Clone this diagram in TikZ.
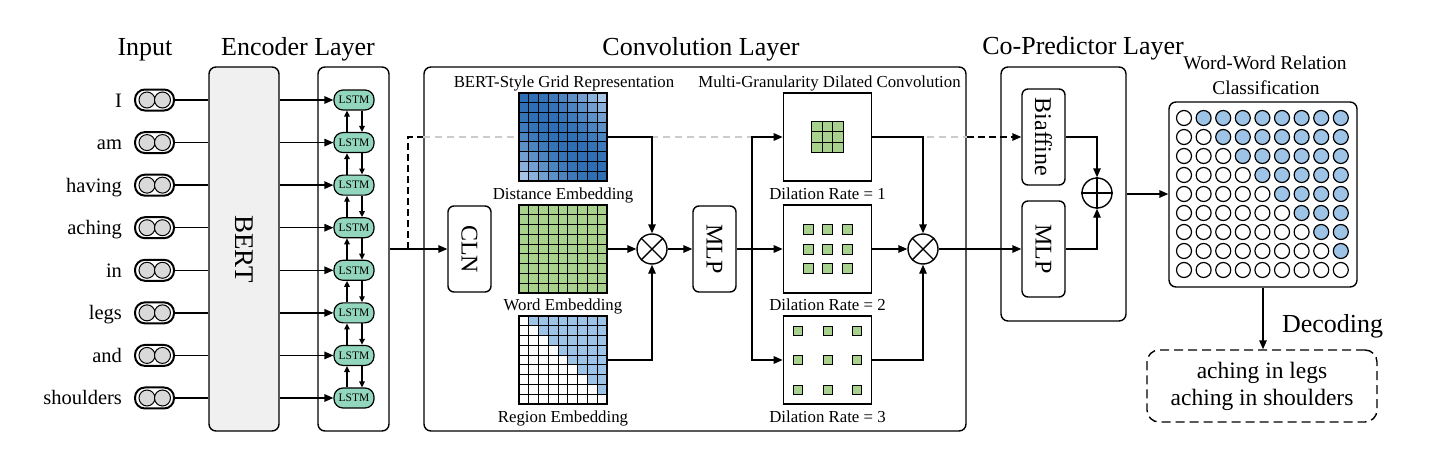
\documentclass[tikz,border=0pt]{standalone}
\usepackage{fontspec}
\setmainfont{Liberation Serif}
\usetikzlibrary{arrows.meta}

\definecolor{lstmgreen}{RGB}{146,214,190}
\definecolor{cellgreen}{RGB}{169,209,142}
\definecolor{cellblue}{RGB}{157,195,230}
\definecolor{distdark}{RGB}{46,110,180}
\definecolor{distlight}{RGB}{182,209,236}
\definecolor{bertgray}{RGB}{240,240,240}
\definecolor{tokgray}{RGB}{217,217,217}

\begin{document}
\begin{tikzpicture}[x=1pt, y=-1pt, line width=1.4pt,
    arr/.style={-{Triangle[length=9pt,width=7.5pt]}},
    sarr/.style={-{Triangle[length=6pt,width=5.5pt]}},
    layerbox/.style={draw, rounded corners=7pt, inner sep=0pt},
    blk/.style={draw, rounded corners=6pt, minimum width=43pt, minimum height=86pt, inner sep=0pt},
    grd/.style={draw, line width=1.6pt, minimum size=88pt, inner sep=0pt},
    cell/.style={draw, line width=1pt},
    ttl/.style={font=\fontsize{26}{30}\selectfont, anchor=base},
    lab/.style={font=\fontsize{16.8}{20}\selectfont, anchor=base},
    vtxt/.style={font=\fontsize{24}{28}\selectfont, rotate=-90}]

  \useasboundingbox (0,0) rectangle (1440,460);

  % Titoli
  \node[ttl] (tin) at (145,56) {Input};
  \node[ttl] (tenc) at (298,56) {Encoder Layer};
  \node[ttl] (tconv) at (701,56) {Convolution Layer};
  \node[ttl] (tcop) at (1083,55) {Co-Predictor Layer};

  % Encoder
  \node[layerbox, fill=bertgray, minimum width=70pt, minimum height=364pt] (bert) at (244,249) {};
  \node[font=\fontsize{27}{30}\selectfont, rotate=-90] (bertl) at (bert) {BERT};
  \node[layerbox, minimum width=71pt, minimum height=364pt] (enc) at (353.5,249) {};

  \foreach \w [count=\i] in {I,am,having,aching,in,legs,and,shoulders}{
    \pgfmathsetmacro\y{100+42.57*(\i-1)}
    \node[font=\fontsize{20.5}{24}\selectfont, anchor=base east] (w\i) at (126,\y+7) {\w};
    \node[draw, line width=2pt, rounded corners=10pt, minimum width=39pt, minimum height=21pt] (t\i) at (154.5,\y) {};
    \draw[fill=tokgray, line width=1pt] (147,\y) circle (8pt);
    \draw[fill=tokgray, line width=1pt] (162.5,\y) circle (8pt);
    \node[draw, fill=lstmgreen, rounded corners=9pt, minimum width=40pt, minimum height=20pt, inner sep=0pt,
          line width=1.2pt, font=\fontsize{11.5}{12}\selectfont] (l\i) at (354,\y) {LSTM};
    \draw (t\i.east) -- (t\i.east -| bert.west);
    \draw[arr] (bert.east |- l\i) -- (l\i.west);
  }
  \foreach \i in {1,...,7}{
    \pgfmathtruncatemacro\nx{\i+1}
    \draw[sarr] ([xshift=-7pt]l\nx.north) -- ([xshift=-7pt]l\i.south);
    \draw[sarr] ([xshift=8pt]l\i.south) -- ([xshift=8pt]l\nx.north);
  }

  % Co-Predictor
  \node[layerbox, minimum width=125pt, minimum height=254pt] (cop) at (1063.5,194) {};
  \node[blk, minimum height=96pt] (bia) at (1043.5,137) {};
  \node[vtxt] (bial) at (bia) {Biaffine};
  \node[blk, minimum height=96pt] (mlp2) at (1043.5,249) {};
  \node[vtxt] (mlp2l) at (mlp2) {MLP};
  \node[draw, circle, minimum size=30pt, inner sep=0pt] (op) at (1097,193) {};
  \draw (op.north) -- (op.south);
  \draw (op.west) -- (op.east);
  \draw[arr] (bia.east) -| (op.north);
  \draw[arr] (mlp2.east) -| (op.south);

  % Convolution
  \node[layerbox, minimum width=542pt, minimum height=364pt] (conv) at (695,249) {};
  \coordinate (jn) at (408,249);
  \draw[dash pattern=on 7pt off 4pt] (jn) |- (conv.west |- bia);
  \draw[gray!40, dash pattern=on 7pt off 5pt] (conv.west |- bia) -- (conv.east |- bia);
  \draw[arr, dash pattern=on 7pt off 4pt] (conv.east |- bia) -- (bia.west);

  \node[blk] (cln) at (469.5,249) {};
  \node[vtxt] (clnl) at (cln) {CLN};
  \draw[arr] (enc.east) -- (cln.west);

  \foreach \row in {0,...,8}{
    \foreach \col in {0,...,8}{
      \pgfmathtruncatemacro\dd{1.4*(\row-\col)^2}
      \draw[cell, fill=distlight!\dd!distdark] (519+\col*9.78,93+\row*9.78) rectangle ++(9.78,9.78);
      \draw[cell, fill=cellgreen] (519+\col*9.78,205+\row*9.78) rectangle ++(9.78,9.78);
      \ifnum\col>\row \def\rc{cellblue}\else\def\rc{white}\fi
      \draw[cell, fill=\rc] (519+\col*9.78,316+\row*9.78) rectangle ++(9.78,9.78);
    }
  }
  \node[grd] (dist) at (563,137) {};
  \node[grd] (word) at (563,249) {};
  \node[grd] (region) at (563,360) {};
  \node[lab] (lgrid) at (564,88) {BERT-Style Grid Representation};
  \node[lab] (ldist) at (563,199.5) {Distance Embedding};
  \node[lab] (lword) at (563,310.5) {Word Embedding};
  \node[lab] (lreg) at (563,422) {Region Embedding};

  \node[draw, circle, minimum size=30pt, inner sep=0pt] (m1) at (652,249) {};
  \draw (m1.north west) -- (m1.south east);
  \draw (m1.north east) -- (m1.south west);
  \draw[arr] (dist.east) -| (m1.north);
  \draw[arr] (word.east) -- (m1.west);
  \draw[arr] (region.east) -| (m1.south);

  \node[blk] (mlp1) at (714.5,249) {};
  \node[vtxt] (mlp1l) at (mlp1) {MLP};
  \draw[arr] (m1.east) -- (mlp1.west);

  % Dilated convolution
  \node[grd, fill=white] (d1) at (827.5,137) {};
  \node[grd, fill=white] (d2) at (827.5,249) {};
  \node[grd, fill=white] (d3) at (827.5,360) {};
  \foreach \a in {-1,0,1}{
    \foreach \b in {-1,0,1}{
      \draw[cell, fill=cellgreen] (822.25+\a*10.5,131.75+\b*10.5) rectangle ++(10.5,10.5);
      \draw[cell, fill=cellgreen] (822.5+\a*19.5,244+\b*19.5) rectangle ++(10,10);
      \draw[cell, fill=cellgreen] (823+\a*29.5,355.5+\b*29.5) rectangle ++(9,9);
    }
  }
  \node[lab] (lmg) at (829.5,88) {Multi-Granularity Dilated Convolution};
  \node[lab] (ld1) at (827.5,199.5) {Dilation Rate = 1};
  \node[lab] (ld2) at (827.5,310.5) {Dilation Rate = 2};
  \node[lab] (ld3) at (827.5,422) {Dilation Rate = 3};

  \coordinate (br) at (752,249);
  \draw (mlp1.east) -- (br);
  \draw[arr] (br) |- (d1.west);
  \draw[arr] (br) -- (d2.west);
  \draw[arr] (br) |- (d3.west);

  \node[draw, circle, minimum size=30pt, inner sep=0pt] (m2) at (923,249) {};
  \draw (m2.north west) -- (m2.south east);
  \draw (m2.north east) -- (m2.south west);
  \draw[arr] (d1.east) -| (m2.north);
  \draw[arr] (d2.east) -- (m2.west);
  \draw[arr] (d3.east) -| (m2.south);
  \draw[arr] (m2.east) -- (mlp2.west);

  % Word-Word
  \node[font=\fontsize{19.5}{22}\selectfont, anchor=base] (lww) at (1265,70) {Word-Word Relation};
  \node[font=\fontsize{19.5}{22}\selectfont, anchor=base] (lcls) at (1266,94) {Classification};
  \node[layerbox, minimum width=188pt, minimum height=185pt] (ww) at (1263,194.5) {};
  \foreach \row in {0,...,8}{
    \foreach \col in {0,...,8}{
      \ifnum\col>\row \def\wc{cellblue}\else\def\wc{white}\fi
      \draw[fill=\wc, line width=1.2pt] (1184+\col*19.6,118+\row*19) circle (7.5pt);
    }
  }
  \draw[arr] (cop.east) -- (cop.east -| ww.west);

  \node[draw, dash pattern=on 9pt off 5pt, rounded corners=12pt, minimum width=230pt, minimum height=72pt,
        align=center, font=\fontsize{23.5}{27}\selectfont] (res) at (1262,386) {aching in legs\\aching in shoulders};
  \draw[arr] (ww.south) -- (ww.south |- res.north);
  \node[font=\fontsize{26}{30}\selectfont, anchor=base west] (ldec) at (1278,332) {Decoding};
\end{tikzpicture}
\end{document}
